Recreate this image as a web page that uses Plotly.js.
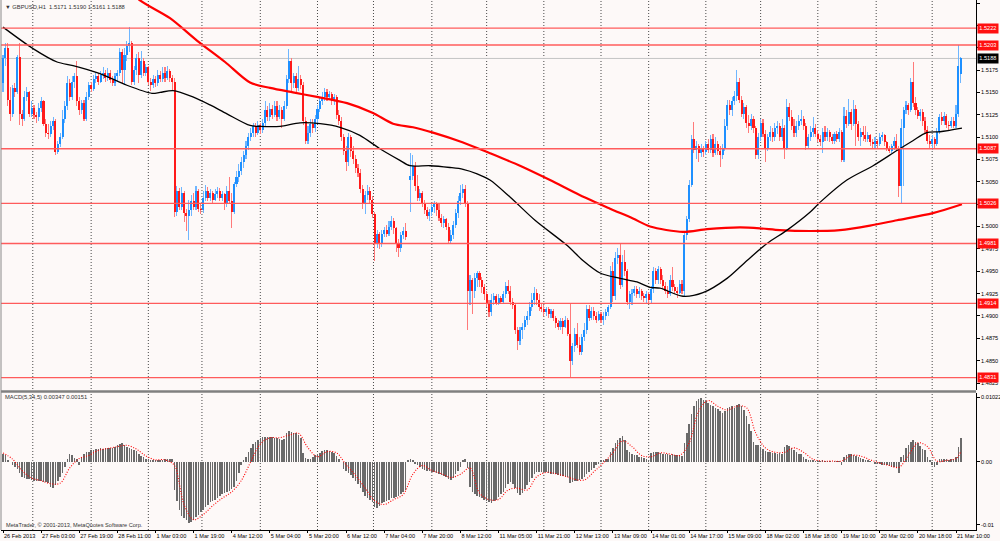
<!DOCTYPE html>
<html><head><meta charset="utf-8">
<script src="https://cdn.plot.ly/plotly-3.0.1.min.js"></script>
<style>html,body{margin:0;padding:0;background:#fdf9f8}#chart{width:1000px;height:541px}</style>
</head><body><div id="chart"></div>
<script>
// Prices are stored as pips (0.0001) above BASE
const BASE = 1.4800;
const O = [
360,388,400,341,326,355,350,390,326,320,
345,350,326,333,325,322,333,340,315,305,
303,312,318,283,292,300,320,335,360,345,
362,368,340,330,338,320,345,358,354,365,
368,362,370,372,366,372,364,360,368,372,
395,375,392,402,405,362,375,388,370,385,
372,378,362,358,365,360,370,365,372,366,
374,366,362,216,240,222,238,215,212,218,
228,222,240,220,218,232,240,232,238,230,
236,240,232,236,225,240,228,216,248,255,
262,272,280,290,300,305,312,305,314,308,
316,330,322,332,325,335,322,330,320,335,
365,385,360,368,355,365,358,318,296,305,
315,310,320,332,340,345,350,345,348,340,
345,325,318,300,285,272,300,285,275,265,
260,242,225,235,240,230,214,180,192,180,
192,196,192,200,206,198,180,176,190,195,
null,252,257,268,245,232,238,226,218,212,
216,222,226,218,210,204,208,200,184,190,
202,215,228,238,242,226,128,140,128,142,
148,140,132,125,115,104,118,122,115,120,
116,124,134,128,116,112,84,72,84,88,
96,100,110,118,126,118,110,108,104,108,
102,106,98,92,88,94,88,96,80,50,
66,80,68,60,76,84,108,98,106,100,
96,102,96,100,104,110,150,122,165,168,
135,160,150,116,124,126,130,124,128,122,
120,124,118,130,150,140,152,140,134,128,
125,140,132,128,126,136,128,190,208,246,
298,286,290,282,288,283,292,286,298,282,
292,284,280,288,312,336,330,340,346,362,
342,326,334,316,312,320,310,280,300,316,
304,288,300,306,300,310,312,300,310,288,
334,322,312,305,312,318,320,312,290,300,
306,310,304,298,294,306,300,306,300,296,
304,298,306,274,324,315,328,315,332,315,
300,306,302,298,302,295,292,296,292,300,
302,294,288,285,290,296,288,245,310,330,
336,330,362,338,330,324,328,318,308,296,
292,298,292,306,322,318,324,314,312,318,
312,326,371];
const H = [
392,405,405,356,358,360,392,405,330,352,
356,352,340,336,328,338,345,342,320,315,
318,322,320,296,305,330,340,368,365,368,
372,385,345,342,342,350,362,362,370,372,
372,374,378,375,377,375,368,372,375,400,
398,400,408,423,408,380,393,395,396,388,
382,380,366,370,368,375,374,378,378,380,
376,370,366,245,243,244,240,220,230,235,
238,245,242,226,240,246,244,242,240,242,
244,243,240,238,245,255,238,250,262,270,
278,285,296,305,310,316,316,318,316,320,
340,335,338,336,340,340,336,334,340,370,
398,388,372,372,380,370,362,322,312,320,
320,325,336,345,350,355,354,352,350,348,
347,330,322,304,290,305,302,290,280,270,
264,246,240,246,244,234,216,196,194,196,
200,202,206,212,210,200,186,194,200,204,
null,282,280,272,258,242,240,230,222,220,
226,228,227,226,214,212,210,204,196,206,
220,234,246,248,246,228,146,142,148,150,
150,144,136,128,118,124,126,124,124,122,
128,138,140,133,120,114,88,88,92,100,
106,116,126,132,130,124,114,112,110,110,
108,108,100,96,98,98,100,98,114,70,
86,92,76,80,92,112,112,110,110,104,
106,104,104,108,112,156,160,172,176,180,
168,174,152,128,130,134,134,132,130,126,
128,127,134,155,154,156,155,146,138,134,
146,155,136,132,140,140,194,212,252,302,
317,296,292,292,290,296,298,302,303,300,
296,290,292,320,342,342,345,352,375,366,
346,338,336,325,326,324,312,305,320,320,
308,304,312,310,316,318,316,320,314,343,
338,330,320,318,325,330,324,316,304,312,
322,315,308,302,310,312,310,308,304,306,
307,310,308,334,330,343,332,342,336,318,
310,312,312,306,304,298,300,298,305,306,
304,296,290,292,300,304,290,320,334,340,
338,366,384,345,334,332,332,322,312,302,
302,300,310,326,328,328,326,318,322,322,
336,403,390];
const L = [
350,380,335,318,322,345,348,313,312,318,
340,322,322,320,316,318,328,312,300,298,
300,308,280,281,289,298,316,330,340,342,
355,335,325,326,318,318,342,350,352,360,
358,360,365,362,363,360,357,357,362,368,
360,358,385,395,358,358,370,360,366,368,
368,358,352,355,356,357,362,362,362,364,
362,352,211,212,218,218,205,195,185,212,
218,218,216,214,215,228,228,228,226,228,
232,228,228,218,222,225,198,214,244,250,
258,266,276,286,296,300,300,302,303,305,
312,318,318,320,322,318,320,310,318,332,
360,352,355,350,352,354,314,292,292,300,
305,306,316,328,336,340,340,342,336,336,
320,314,296,280,262,268,278,270,260,255,
238,220,214,230,226,210,162,176,175,177,
188,188,189,196,192,172,166,172,186,185,
null,216,252,240,228,228,222,214,208,206,
212,215,212,206,200,198,196,180,181,186,
198,210,224,232,222,84,112,102,120,132,
132,126,118,110,99,100,112,112,112,113,
114,120,124,112,108,80,62,68,74,84,
90,96,105,112,112,106,104,100,100,98,
98,94,86,84,84,80,86,78,32,45,
60,64,56,56,72,80,94,96,96,92,
94,92,90,96,100,108,116,118,158,130,
132,145,112,108,112,122,120,120,118,116,
114,114,114,126,136,136,136,130,124,120,
122,128,124,120,124,124,121,185,205,244,
282,276,272,278,278,280,282,282,278,280,
280,267,276,284,308,325,324,336,340,338,
322,320,310,305,308,305,276,276,296,300,
272,285,296,294,296,304,296,296,275,286,
318,308,300,300,308,314,308,286,288,296,
300,300,294,290,282,296,296,295,292,292,
294,294,272,272,310,312,308,312,290,296,
290,296,294,294,290,288,288,288,290,296,
290,284,282,282,286,284,233,226,245,326,
325,328,334,325,320,318,312,304,292,288,
286,288,290,304,314,314,310,308,310,310,
310,322,361];
const C = [
388,400,341,326,355,350,390,326,320,345,
350,326,333,325,322,333,340,315,305,303,
312,318,283,292,300,320,335,360,345,362,
368,340,330,338,320,345,358,354,365,368,
362,370,372,366,372,364,360,368,372,395,
375,392,402,405,362,375,388,370,385,372,
378,362,358,365,360,370,365,372,366,374,
366,362,216,240,222,238,215,212,218,228,
222,240,220,218,232,240,232,238,230,236,
240,232,236,225,240,228,216,248,255,262,
272,280,290,300,305,312,305,314,308,316,
330,322,332,325,335,322,330,320,335,365,
385,360,368,355,365,358,318,296,305,315,
310,320,332,340,345,350,345,348,340,345,
325,318,300,285,272,300,285,275,265,260,
242,225,235,240,230,214,180,192,180,192,
196,192,200,206,198,180,176,190,195,188,
null,257,268,245,232,238,226,218,212,216,
222,226,218,210,204,208,200,184,190,202,
215,228,238,242,226,128,140,128,142,148,
140,132,125,115,104,118,122,115,120,116,
124,134,128,116,112,84,72,84,88,96,
100,110,118,126,118,110,108,104,108,102,
106,98,92,88,94,88,96,80,50,66,
80,68,60,76,84,108,98,106,100,96,
102,96,100,104,110,150,122,165,168,135,
160,150,116,124,126,130,124,128,122,120,
124,118,130,150,140,152,140,134,128,125,
140,132,128,126,136,128,190,208,246,298,
286,290,282,288,283,292,286,298,282,292,
284,280,288,312,336,330,340,346,362,342,
326,334,316,312,320,310,280,300,316,304,
288,300,306,300,310,312,300,310,288,334,
322,312,305,312,318,320,312,290,300,306,
310,304,298,294,306,300,306,300,296,304,
298,306,274,324,315,328,315,332,315,300,
306,302,298,302,295,292,296,292,300,302,
294,288,285,290,296,288,245,310,330,336,
330,362,338,330,324,328,318,308,296,292,
298,292,306,322,318,324,314,312,318,312,
326,380,388];

// MACD histogram, in units of 0.0001
const MACD = [
12,10,3,0,-6,-9,-12,-18,-24,-26,-27,
-28,-29,-30,-30,-30,-31,-32,-33,-34,-40,-42,
-37,-30,-24,-18,-8,4,13,10,6,5,-5,
8,13,15,16,18,19,20,20,21,20,21,
22,21,22,24,27,28,30,26,24,22,20,
18,17,12,9,7,5,4,3,3,2,2,
3,3,4,4,5,4,-45,-62,-76,-86,-90,
-93,-98,-95,-92,-88,-84,-80,-76,-72,-68,-64,
-62,-60,-57,-54,-52,-50,-48,-46,-44,-40,-30,
-18,-6,2,8,15,22,28,32,35,37,39,
40,40,40,39,38,37,36,34,36,46,48,
47,46,45,42,38,14,6,5,5,8,10,
12,14,17,18,18,17,16,14,9,4,0,
-12,-15,-18,-21,-26,-30,-36,-42,-48,-54,-57,
-60,-64,-72,-74,-70,-66,-64,-62,-60,-58,-57,
-56,-55,-52,-48,-45,
2,4,3,-3,-6,-9,-11,-13,-14,-15,-16,
-17,-18,-20,-21,-22,-25,-28,-29,-26,-20,-14,
-8,3,4,-10,-40,-48,-52,-55,-56,-58,-60,
-62,-64,-65,-63,-60,-56,-52,-48,-42,-35,-33,
-36,-42,-50,-53,-50,-44,-37,-32,-26,-20,-17,
-16,-16,-16,-17,-18,-19,-20,-20,-21,-22,-23,
-24,-24,-34,-32,-30,-30,-29,-28,-24,-20,-16,
-13,-10,-6,-4,2,3,4,5,16,22,30,
34,37,41,34,18,15,13,11,10,8,7,
6,5,3,14,16,16,15,14,13,12,12,
11,12,11,10,10,9,30,45,60,75,88,
97,100,101,98,96,93,90,88,86,84,80,
78,80,85,87,88,86,90,92,88,82,72,
60,48,32,27,26,24,20,17,16,15,14,
14,13,14,13,24,26,25,21,18,15,13,
12,8,5,3,2,2,1,1,1,2,1,
1,1,0,1,1,1,-5,8,11,13,12,
10,9,8,6,5,3,2,1,0,-3,-4,
-4,-5,-5,-6,-7,-8,-8,-9,-18,8,10,
21,26,32,34,31,29,25,20,18,8,3,
-5,-8,-6,4,4,5,4,3,4,5,8,24,37];

// MACD signal line, read at sample bars
const SIG_X = [0,4,8,12,16,20,24,28,32,36,40,44,48,52,56,60,64,68,72,74,76,80,84,88,92,96,100,104,108,112,116,120,124,128,132,136,140,144,148,152,156,160,164,168,172,176,180,184,188,192,196,200,204,208,212,216,220,224,228,232,236,240,244,248,252,256,260,264,268,272,276,280,284,288,292,296,300,304,308,312,316,320,324,328,332,336,340,344,348,352,356,360,364,368,372,376,380,384,388,392,396,400,402];
const SIG_Y = [14,4,-14,-26,-30,-35,-34,-10,5,10,18,21,24,26,20,9,3,3,-6,-35,-68,-92,-84,-70,-58,-48,-30,0,28,38,38,42,45,22,8,16,14,-5,-22,-42,-62,-68,-60,-52,-20,-6,-14,-19,-25,-20,-10,-50,-60,-60,-45,-42,-45,-24,-17,-19,-23,-28,-29,-16,-2,14,33,24,10,8,14,12,10,30,80,97,88,82,88,86,45,22,15,15,22,15,4,1,1,1,10,9,3,-2,-6,-9,10,30,24,1,2,5,16];

// Moving averages (black = fast, red = slow), read at sample bars
const MA_FAST_X = [0,12.6,22.7,29.4,40.7,52,62.5,65.9,71.4,79.7,86.9,94,103.7,107.9,116.3,124.7,133.1,141.4,149.8,158.2,166.6,170.8,179.2,187.6,193.1,199,204.4,212.8,223.3,236.7,243.4,250.6,259,266.1,271.6,275.8,285.4,293.8,303.9,312.3,320.7,329.1,338.7,342.9,354.2,365.2,375.2,381.9,387.7,393.3,402.5];
const MA_FAST_Y = [423,399,384,380,371,358,349,350,352,345,336,326,313,312,312,316,315,311,302,287,274,268,268,266,264,259,252,233,207,179,162,148,142,138,132,131,122,126,142,162,181,196,216,227,252,268,285,296,305,306,310];
const MA_SLOW_X = [30,40.7,57.5,70.1,81.4,93.2,103.7,112.1,121.7,131.8,144.4,155.3,163.7,172.1,180.5,193.1,204.4,217,229.6,242.2,254.8,264.4,271.6,285.4,295.5,309.3,317.7,326.1,338.7,351.3,363.9,375.2,390.3,402.5];
const MA_SLOW_Y = [510,492,453,433,408,384,361,355,350,345,338,327,315,311,305,294,282,268,252,235,220,209,200,194,197,199,198,196,195,196,201,207,215,225];

const LEVELS = [1.5222,1.5203,1.5087,1.5026,1.4981,1.4914,1.4831];
const CURRENT = 1.5188;
const TIME_LABELS = ["26 Feb 2013","27 Feb 03:00","27 Feb 19:00","28 Feb 11:00","1 Mar 03:00","1 Mar 19:00","4 Mar 12:00","5 Mar 04:00","5 Mar 20:00","6 Mar 12:00","7 Mar 04:00","7 Mar 20:00","8 Mar 12:00","11 Mar 05:00","11 Mar 21:00","12 Mar 13:00","13 Mar 09:00","14 Mar 01:00","14 Mar 17:00","15 Mar 09:00","18 Mar 02:00","18 Mar 18:00","19 Mar 10:00","20 Mar 02:00","20 Mar 18:00","21 Mar 10:00"];
const TIME_STEP = 16;
const DAY_LINES = [12.5,37,61,83.5,108,132,155.5,180,203,227,251,271,295,318,342,366.5,390];

// ---------- layout geometry ----------
const W = 1000, HT = 541, ML = 1, MR = 24, MT = 0, MB = 11;
const PW = W - ML - MR, PH = HT - MT - MB;
const PX_BAR = 2.3825, BAR0_PX = 3;
const xr0 = -(BAR0_PX - ML) / PX_BAR, xr1 = xr0 + PW / PX_BAR;
const MAIN_BOT_PX = 390, SUB_TOP_PX = 393;
const PX_PIP = 380 / 425;            // main panel pixels per pip
const MAIN_TOP = 450 + 3 / PX_PIP;    // value at top edge
const MAIN_BOT = MAIN_TOP - MAIN_BOT_PX / PX_PIP;
const SUB_PX_PIP = 0.63, SUB_ZERO_PX = 461.7;
const SUB_TOP = (SUB_ZERO_PX - SUB_TOP_PX) / SUB_PX_PIP;
const SUB_BOT = -(PH - SUB_ZERO_PX) / SUB_PX_PIP;
const F = 'Liberation Sans, Arial, sans-serif';
const toPip = v => (v - BASE) * 10000;
const fmt = p => (BASE + p / 10000).toFixed(4);
const pxX = px => (px - ML) / PW, pxY = py => 1 - (py - MT) / PH;

// ---------- candles ----------
function candles(up) {
  const r = {x: [], wb: [], wh: [], bb: [], bh: []};
  for (let i = 0; i < O.length; i++) {
    if (O[i] == null) continue;
    if ((C[i] >= O[i]) !== up) continue;
    r.x.push(i);
    r.wb.push(L[i]); r.wh.push(H[i] - L[i]);
    r.bb.push(Math.min(O[i], C[i])); r.bh.push(Math.abs(C[i] - O[i]));
  }
  return r;
}
const up = candles(true), dn = candles(false);
const bar = (x, y, base, w, col, ax) => ({type: 'bar', x, y, base, width: w, marker: {color: col, line: {width: 0}}, xaxis: 'x', yaxis: ax, hoverinfo: 'skip', showlegend: false});
const idx = MACD.map((_, i) => i);

const traces = [
  bar(up.x, up.wh, up.wb, 0.45, '#6fb6ff', 'y'),
  bar(dn.x, dn.wh, dn.wb, 0.45, '#ff7a7a', 'y'),
  bar(up.x, up.bh, up.bb, 0.85, '#1e90ff', 'y'),
  bar(dn.x, dn.bh, dn.bb, 0.85, '#ff1a1a', 'y'),
  {type: 'scatter', mode: 'lines', x: MA_SLOW_X, y: MA_SLOW_Y, line: {color: '#ff0000', width: 2.2, shape: 'spline', smoothing: 0.8}, xaxis: 'x', yaxis: 'y', hoverinfo: 'skip', showlegend: false},
  {type: 'scatter', mode: 'lines', x: MA_FAST_X, y: MA_FAST_Y, line: {color: '#000000', width: 1.3, shape: 'spline', smoothing: 0.8}, xaxis: 'x', yaxis: 'y', hoverinfo: 'skip', showlegend: false},
  bar(idx, MACD, undefined, 0.65, '#6a6a6a', 'y2'),
  {type: 'scatter', mode: 'lines', x: SIG_X, y: SIG_Y, line: {color: '#ff0000', width: 1.1, dash: '1px,1.6px', shape: 'spline'}, xaxis: 'x', yaxis: 'y2', hoverinfo: 'skip', showlegend: false}
];

// ---------- shapes ----------
const shapes = [];
DAY_LINES.forEach(d => shapes.push({type: 'line', xref: 'x', yref: 'paper', x0: d, x1: d, y0: 0, y1: 1, layer: 'below', line: {color: '#4a4a4a', width: 1, dash: '1px,2px'}}));
shapes.push({type: 'line', xref: 'paper', yref: 'y', x0: 0, x1: 1, y0: toPip(CURRENT), y1: toPip(CURRENT), layer: 'below', line: {color: '#c4c4c4', width: 1}});
LEVELS.forEach(v => shapes.push({type: 'line', xref: 'paper', yref: 'y', x0: 0, x1: 1, y0: toPip(v), y1: toPip(v), line: {color: '#ff5c5c', width: 1.3}}));
const SEP = pxY(391.5);
shapes.push({type: 'line', xref: 'paper', yref: 'paper', x0: 0, x1: 1, y0: SEP, y1: SEP, line: {color: '#808080', width: 2.5}});
shapes.push({type: 'line', xref: 'paper', yref: 'paper', x0: 0, x1: 0, y0: 0, y1: 1, line: {color: '#8a8a8a', width: 1}});

// ---------- annotations ----------
const ann = [];
const boxFont = {family: F, size: 5.6, color: '#ffffff'};
LEVELS.forEach(v => ann.push({xref: 'paper', yref: 'y', x: 1, y: toPip(v), xanchor: 'left', yanchor: 'middle', xshift: 1, text: v.toFixed(4), showarrow: false, bgcolor: '#ff1010', borderpad: 1.3, font: boxFont}));
ann.push({xref: 'paper', yref: 'y', x: 1, y: toPip(CURRENT), xanchor: 'left', yanchor: 'middle', xshift: 1, text: CURRENT.toFixed(4), showarrow: false, bgcolor: '#000000', borderpad: 1.3, font: boxFont});
const last = O.length - 1;
ann.push({xref: 'paper', yref: 'paper', x: pxX(3), y: pxY(7), xanchor: 'left', yanchor: 'middle', showarrow: false,
  text: '\u25BC GBPUSD,H1\u00a0\u00a0' + [O[last], H[last], L[last], C[last]].map(fmt).join(' '),
  font: {family: F, size: 5.8, color: '#333333'}});
ann.push({xref: 'paper', yref: 'paper', x: pxX(3), y: pxY(397), xanchor: 'left', yanchor: 'middle', showarrow: false,
  text: 'MACD(5,34,5) 0.00347 0.00151', font: {family: F, size: 5.8, color: '#333333'}});
ann.push({xref: 'paper', yref: 'paper', x: pxX(4), y: pxY(525), xanchor: 'left', yanchor: 'middle', showarrow: false,
  text: 'MetaTrader, \u00a9 2001-2013, MetaQuotes Software Corp.', font: {family: F, size: 5.6, color: '#333333'}});

// ---------- axes ----------
// price ticks every 0.0025; labels fully covered by a level box are left blank
const mainTicks = [];
for (let v = 25; v <= 450; v += 25) mainTicks.push(v);
const covered = v => LEVELS.some(l => Math.abs(toPip(l) - v) < 4);
const axFont = {family: F, size: 5.6, color: '#000000'};
const yCommon = {side: 'right', anchor: 'x', showgrid: false, zeroline: false, showline: true, linecolor: '#000000', linewidth: 1, ticks: 'outside', ticklen: 3, tickcolor: '#000000', tickfont: axFont, fixedrange: true};

const layout = {
  width: W, height: HT,
  margin: {l: ML, r: MR, t: MT, b: MB, pad: 0},
  paper_bgcolor: '#fdf9f8', plot_bgcolor: '#fdf9f8',
  barmode: 'overlay', bargap: 0, hovermode: false, showlegend: false,
  xaxis: {range: [xr0, xr1], anchor: 'y2', showgrid: false, zeroline: false, showline: true, linecolor: '#000000', linewidth: 1,
    ticks: 'outside', ticklen: 2, tickcolor: '#000000', tickvals: TIME_LABELS.map((_, k) => k * TIME_STEP), ticktext: TIME_LABELS,
    tickangle: 0, ticklabelposition: 'outside right', tickfont: axFont, fixedrange: true, automargin: false},
  yaxis: Object.assign({}, yCommon, {domain: [(PH - MAIN_BOT_PX) / PH, 1], range: [MAIN_BOT, MAIN_TOP], tickvals: mainTicks, ticktext: mainTicks.map(v => covered(v) ? '' : fmt(v))}),
  yaxis2: Object.assign({}, yCommon, {domain: [0, (PH - SUB_TOP_PX) / PH], range: [SUB_BOT, SUB_TOP], tickvals: [102.2, 0, -100], ticktext: ['0.01022', '0.00', '-0.01']}),
  shapes, annotations: ann
};

const lens = [O.length, H.length, L.length, C.length, MACD.length];
if (lens.some(n => n !== 403) || SIG_X.length !== SIG_Y.length || MA_FAST_X.length !== MA_FAST_Y.length || MA_SLOW_X.length !== MA_SLOW_Y.length) {
  ann.push({xref: 'paper', yref: 'paper', x: 0.5, y: 0.5, showarrow: false, text: 'LEN ' + lens.join(',') + ' ' + SIG_X.length + '/' + SIG_Y.length, font: {size: 20, color: '#f0f'}});
}

Plotly.newPlot('chart', traces, layout, {staticPlot: true, displayModeBar: false});
</script>
</body></html>
